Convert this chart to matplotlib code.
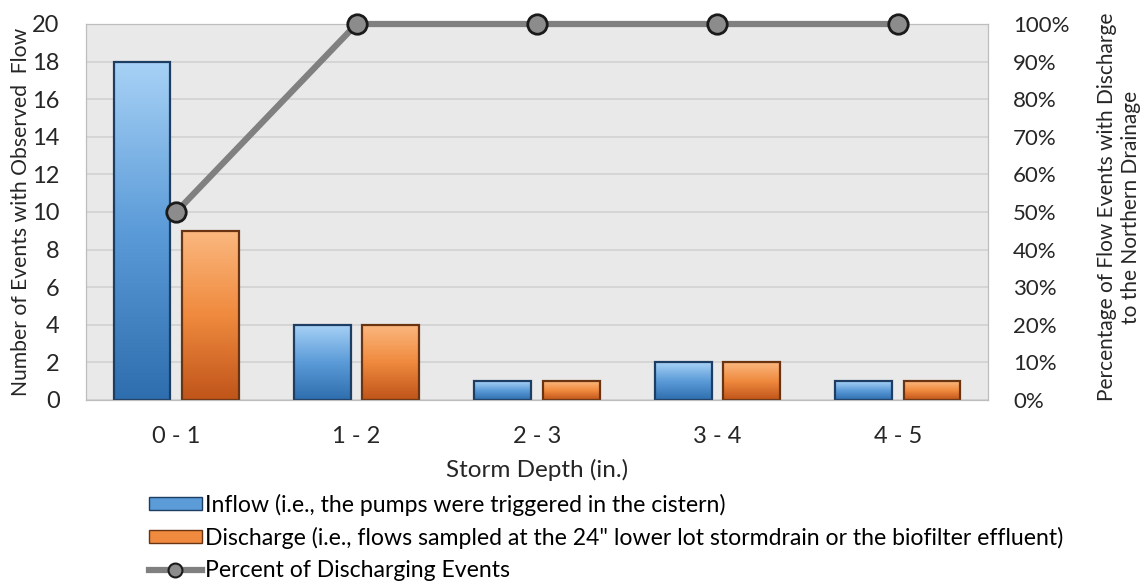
import matplotlib
matplotlib.use("Agg")
import matplotlib.pyplot as plt
from matplotlib.colors import LinearSegmentedColormap
from matplotlib.lines import Line2D
from matplotlib.patches import Patch
import numpy as np

plt.rcParams['font.family'] = ['Lato', 'DejaVu Sans']
plt.rcParams['font.size'] = 17

# data
depths = ['0 - 1', '1 - 2', '2 - 3', '3 - 4', '4 - 5']
inflow = [18, 4, 1, 2, 1]
discharge = [9, 4, 1, 2, 1]
pct_discharging = [50, 100, 100, 100, 100]

blue_cm = LinearSegmentedColormap.from_list('b', ['#2f6eae', '#5b9bd8', '#a8d2f6'])
orange_cm = LinearSegmentedColormap.from_list('o', ['#c0541a', '#ef8a3e', '#fbb880'])

fig = plt.figure(figsize=(11.44, 5.85), dpi=100)
ax = fig.add_axes([86/1144, 1 - 400/585, 902/1144, 376/585])
ax.set_facecolor('#e9e9e9')

x = np.arange(len(depths))
w = 0.315
off = 0.19

def gradient_bars(xpos, vals, cmap, edge):
    bars = ax.bar(xpos, vals, w, color='none', edgecolor=edge, linewidth=1.6, zorder=3)
    grad = np.linspace(0, 1, 256).reshape(-1, 1)
    for b in bars:
        x0, y0 = b.get_x(), b.get_y()
        im = ax.imshow(grad, cmap=cmap, origin='lower', aspect='auto', zorder=2,
                       extent=(x0, x0 + b.get_width(), y0, y0 + b.get_height()))
        im.set_clip_path(b)
    return bars

gradient_bars(x - off, inflow, blue_cm, '#1d3d63')
gradient_bars(x + off, discharge, orange_cm, '#6a3412')

ax.set_xlim(-0.5, 4.5)
ax.set_ylim(0, 20)
ax.set_yticks(range(0, 21, 2))
ax.set_xticks(x)
ax.set_xticklabels(depths)
ax.tick_params(length=0)
ax.tick_params(axis='x', pad=19)
ax.tick_params(axis='y', pad=19)
ax.yaxis.grid(True, color='#d2d2d2', linewidth=1.2)
ax.set_axisbelow(True)
for s in ax.spines.values():
    s.set_color('#bdbdbd')
ax.set_xlabel('Storm Depth (in.)', labelpad=8, color='#262626', fontsize=17.5)
ax.set_ylabel('Number of Events with Observed  Flow', labelpad=1, color='#262626',
              fontsize=15.2)

ax2 = ax.twinx()
ax2.plot(x, pct_discharging, color='#808080', linewidth=4.5, marker='o', markersize=14,
         markerfacecolor='#8c8c8c', markeredgecolor='#1a1a1a', markeredgewidth=2, zorder=5,
         clip_on=False)
ax2.set_ylim(0, 100)
ax2.set_yticks(range(0, 101, 10))
ax2.set_yticklabels([f'{v}%' for v in range(0, 101, 10)])
ax2.tick_params(length=0, pad=18, labelsize=16)
for s in ax2.spines.values():
    s.set_color('#bdbdbd')
fig.text(1119/1144, 1 - 207/585,
         'Percentage of Flow Events with Discharge\nto the Northern Drainage',
         rotation=90, ha='center', va='center', multialignment='center',
         color='#262626', linespacing=1.2, fontsize=15)

handles = [
    Patch(facecolor='#5b9bd8', edgecolor='#1d3d63'),
    Patch(facecolor='#ef8a3e', edgecolor='#6a3412'),
    Line2D([], [], color='#808080', linewidth=4.5, marker='o', markersize=10,
           markerfacecolor='#8c8c8c', markeredgecolor='#1a1a1a', markeredgewidth=1.5),
]
labels = [
    'Inflow (i.e., the pumps were triggered in the cistern)',
    'Discharge (i.e., flows sampled at the 24" lower lot stormdrain or the biofilter effluent)',
    'Percent of Discharging Events',
]
fig.legend(handles, labels, loc='upper left', bbox_to_anchor=(137/1144, 1 - 482/585),
           frameon=False, fontsize=16.6, handlelength=2.3, handleheight=0.45,
           handletextpad=0.15, labelspacing=0.48, borderpad=0)

for t in ax.get_xticklabels() + ax.get_yticklabels() + ax2.get_yticklabels():
    t.set_color('#262626')

fig.savefig('out.png', dpi=100)
